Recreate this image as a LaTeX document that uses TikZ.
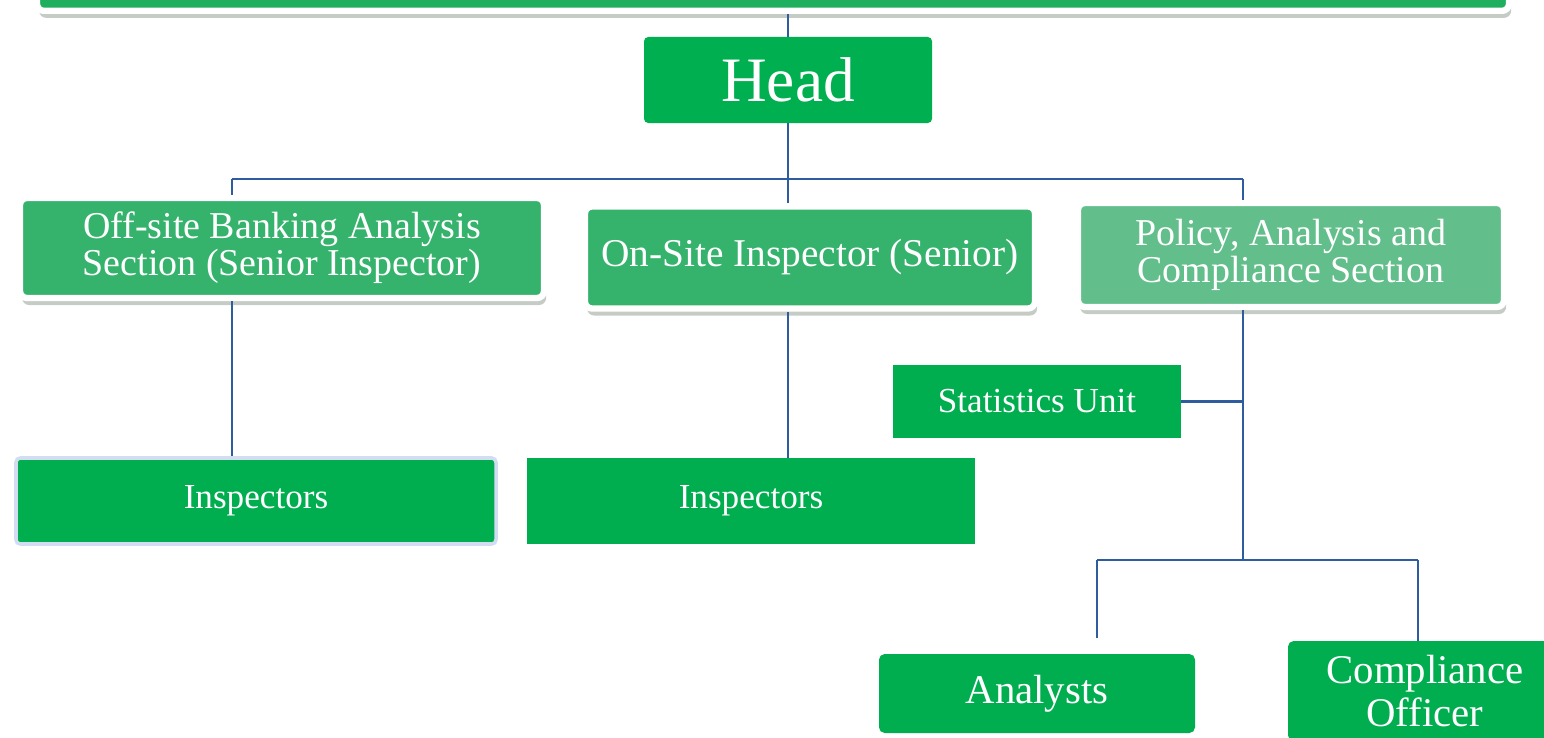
\documentclass[tikz,border=0pt]{standalone}
\usepackage{fontspec}
\setmainfont{Liberation Serif}
\usetikzlibrary{positioning,shadows}
\definecolor{bar}{HTML}{1FAF5F}
\definecolor{lead}{HTML}{00B050}
\definecolor{sect}{HTML}{35B36C}
\definecolor{soft}{HTML}{62BE8A}
\definecolor{team}{HTML}{00AE50}
\definecolor{wire}{HTML}{2F5C9E}
\definecolor{glow}{HTML}{D3DDF2}
\definecolor{shade}{HTML}{8A9A8B}
\tikzset{
  every picture/.style={x=0.25mm, y=-0.25mm},
  card/.style={text=white, align=center, inner sep=0pt},
  framed/.style={card, rounded corners=5pt, draw=white, line width=4.5pt,
    drop shadow={shadow xshift=1.5pt, shadow yshift=-5pt, opacity=0.5, fill=shade}},
  unit/.style={card, fill=team, font=\fontsize{25}{27}\selectfont},
  sect/.style={font=\fontsize{27}{26.5}\selectfont},
  wire/.style={draw=wire, line width=1.6pt},
}
\begin{document}
\begin{tikzpicture}
\useasboundingbox (0,0) rectangle (1544,738);
\clip (0,0) rectangle (1544,738);
% banner, only its lower edge is in view
\node[framed, fill=bar, minimum width=368mm, minimum height=20mm, anchor=south] (top) at (773,14) {};
\node[card, fill=lead, rounded corners=3pt, minimum width=72mm, minimum height=21.5mm, font=\fontsize{45}{48}\selectfont] (head) at (788,80) {Head};
% sections
\node[framed, sect, fill=sect, minimum width=131mm, minimum height=25mm] (off) at (282,248) {Off-site Banking Analysis\\Section (Senior Inspector)};
\node[framed, sect, fill=sect, minimum width=112.5mm, minimum height=25.5mm, font=\fontsize{28}{30}\selectfont] (on) at (810,257.5) {On-Site Inspector (Senior)};
\node[framed, sect, fill=soft, minimum width=106.5mm, minimum height=26mm] (pol) at (1291,255) {Policy, Analysis and\\Compliance Section};
% staff
\node[unit, draw=glow, line width=2.5pt, rounded corners=3pt, minimum width=120mm, minimum height=21.5mm] (insp1) at (256,501) {Inspectors};
\node[unit, minimum width=112mm, minimum height=21.5mm] (insp2) at (751,501) {Inspectors};
\node[unit, minimum width=72mm, minimum height=18.25mm] (stats) at (1037,401.5) {Statistics Unit};
\node[unit, rounded corners=4pt, minimum width=79mm, minimum height=19.75mm, font=\fontsize{29}{30}\selectfont] (ana) at (1037,693.5) {Analysts};
\node[unit, rounded corners=4pt, minimum width=68.5mm, minimum height=25mm, font=\fontsize{29}{30}\selectfont] (comp) at (1425,691) {Compliance\\Officer};
% connectors
\coordinate (busL) at (232,179);
\coordinate (busR) at (1243,179);
\coordinate (fork) at (1243,560);
\coordinate (forkL) at (1097,560);
\coordinate (forkR) at (1418,560);
\draw[wire] (head.north) -- (head.north |- top.south);
\draw[wire] (head.south) -- (head.south |- on.north);
\draw[wire] (busL) -- (busR);
\draw[wire] (busL) -- (busL |- off.north);
\draw[wire] (busR) -- (busR |- pol.north);
\draw[wire] (busL |- off.south) -- (busL |- insp1.north);
\draw[wire] (head.south |- on.south) -- (head.south |- insp2.north);
\draw[wire] (busR |- pol.south) -- (fork);
\draw[wire] (stats.east) -- (stats.east -| fork);
\draw[wire] (forkL) -- (forkR);
\draw[wire, shorten >=4mm] (forkL) -- (forkL |- ana.north);
\draw[wire] (forkR) -- (forkR |- comp.north);
\end{tikzpicture}
\end{document}
